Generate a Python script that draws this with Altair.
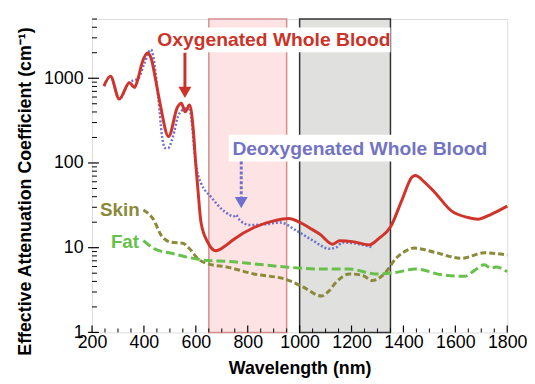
import altair as alt
import pandas as pd

# ---- data ----
oxy_wl = [246, 271, 305, 344, 364, 379, 392, 414, 430, 443, 462, 495, 529, 544, 559, 576,
          590, 600, 608, 620, 646, 677, 710, 747, 824, 900, 957, 1001, 1040, 1077, 1128,
          1154, 1204, 1268, 1306, 1350, 1395, 1433, 1446, 1480, 1522, 1585, 1649, 1687,
          1738, 1800]
oxy_val = [808, 1059, 569, 883, 780, 1037, 1490, 1986, 1630, 1037, 507, 205, 455, 507, 403,
           484, 250, 95, 48.8, 19.8, 11.6, 9.2, 10.3, 12.6, 17.3, 20.7, 22.1, 19.9, 17.0,
           14.5, 11.0, 12.1, 11.8, 10.8, 12.9, 17.5, 37, 68, 71, 60, 44.6, 27.2, 22.7, 21.7,
           24.8, 31]

deoxy_wl = [246, 271, 305, 344, 364, 379, 400, 427, 455, 470, 481, 493, 512, 531, 557, 570,
            585, 595, 605, 620, 658, 709, 747, 754, 770, 811, 874, 925, 989, 1052, 1115,
            1141, 1166, 1230, 1281]
deoxy_val = [808, 1059, 569, 900, 950, 1000, 1450, 2177, 605, 205, 150, 150, 205, 353, 443,
             470, 290, 130, 80, 58, 40, 27, 23.5, 24.5, 21, 18.5, 19, 19.8, 15.8, 12.1, 9.7,
             10.1, 11.5, 11.0, 10.1]

skin_wl = [398, 436, 468, 506, 550, 576, 608, 646, 722, 823, 950, 1014, 1084, 1109, 1141,
           1192, 1243, 1281, 1331, 1370, 1420, 1440, 1522, 1624, 1712, 1800]
skin_val = [27.9, 21.7, 13.8, 11.6, 11.3, 9.7, 7.4, 6.45, 5.9, 4.9, 4.2, 3.43, 2.69, 3.0,
            3.93, 4.9, 4.7, 4.1, 5.1, 7.4, 9.5, 9.9, 8.8, 7.5, 8.7, 8.2]

fat_wl = [398, 443, 506, 570, 646, 722, 823, 950, 1077, 1192, 1293, 1370, 1446, 1547, 1636,
          1674, 1712, 1738, 1757, 1800]
fat_val = [12.1, 9.6, 8.6, 7.7, 7.05, 6.9, 6.45, 5.9, 5.6, 5.6, 4.9, 5.1, 5.6, 4.8, 4.6,
           5.4, 6.3, 5.7, 5.9, 5.2]

pink_band = [650, 950]
gray_band = [1000, 1350]

x_major = [200, 400, 600, 800, 1000, 1200, 1400, 1600, 1800]
x_minor = [250, 300, 350, 450, 500, 550, 650, 700, 750, 850, 900, 950, 1050, 1100, 1150,
           1250, 1300, 1350, 1450, 1500, 1550, 1650, 1700, 1750]
y_major = [1, 10, 100, 1000]
y_minor = [2, 3, 4, 5, 6, 7, 8, 9, 20, 30, 40, 50, 60, 70, 80, 90, 200, 300, 400, 500,
           600, 700, 800, 900, 2000, 3000, 4000, 5000]

labels = ["Oxygenated Whole Blood", "Deoxygenated Whole Blood", "Skin", "Fat"]
label_wl = [901, 1232, 307, 327]
label_val = [2800, 147, 27.9, 11.7]
label_col = ["#cc3328", "#7373c4", "#8a8a3a", "#66c04a"]
label_size = [19.5, 19.5, 19, 19]

# white boxes behind the two blood labels
box_wl = [448, 727]
box_wl2 = [1350, 1722]
box_val = [2023, 104]
box_val2 = [3980, 215]

# arrows: wavelength, start value, tip value
arrow_wl = [558, 775]
arrow_from = [2000, 104]
arrow_to = [780, 40]
arrow_head = [680, 34]

W, H = 420, 317
xs = alt.Scale(domain=[200, 1800], nice=False)
ys = alt.Scale(type="log", domain=[1, 5000], nice=False)
FONT = "Liberation Sans"


def line_df(wl, val):
    return pd.DataFrame({"wl": wl, "v": val})


base_x = alt.X("wl:Q", scale=xs,
               axis=alt.Axis(values=x_major, title="Wavelength (nm)", ticks=False,
                             format="d",
                             labelFont=FONT, labelFontSize=18, labelColor="black",
                             titleFont=FONT, titleFontSize=18, titleFontWeight="bold",
                             titleColor="black", labelPadding=1, titlePadding=9,
                             domain=False, grid=False, labelFlush=False))
base_y = alt.Y("v:Q", scale=ys,
               axis=alt.Axis(values=y_major, title="Effective Attenuation Coefficient (cm⁻¹)",
                             ticks=False, format="d", labelFont=FONT, labelFontSize=18,
                             labelColor="black", titleFont=FONT, titleFontSize=18,
                             titleFontWeight="bold", titleColor="black", labelPadding=9,
                             titlePadding=9, domain=False, grid=False, labelFlush=False,
                             titleY=174))

bands = alt.Chart(pd.DataFrame({
    "a": [pink_band[0], gray_band[0]], "b": [pink_band[1], gray_band[1]],
    "c": ["#fde3e3", "#e0e0de"], "s": ["#d58f8f", "#333333"]})).mark_rect(
    strokeWidth=1.5).encode(
    x=alt.X("a:Q", scale=xs), x2="b:Q",
    y=alt.value(0), y2=alt.value(H),
    fill=alt.Fill("c:N", scale=None), stroke=alt.Stroke("s:N", scale=None))

boxes = alt.Chart(pd.DataFrame({"a": box_wl, "b": box_wl2, "lo": box_val, "hi": box_val2})
                  ).mark_rect(fill="white").encode(
    x=alt.X("a:Q", scale=xs), x2="b:Q", y=alt.Y("lo:Q", scale=ys), y2="hi:Q")

axes_holder = alt.Chart(line_df(fat_wl, fat_val)).mark_line(opacity=0).encode(
    x=base_x, y=base_y)
fat = alt.Chart(line_df(fat_wl, fat_val)).mark_line(
    color="#66c04a", strokeWidth=3, strokeDash=[9, 4], interpolate="monotone").encode(
    x=alt.X("wl:Q", scale=xs), y=alt.Y("v:Q", scale=ys))
skin = alt.Chart(line_df(skin_wl, skin_val)).mark_line(
    color="#8a8a3a", strokeWidth=3, strokeDash=[6, 3], interpolate="monotone").encode(
    x=alt.X("wl:Q", scale=xs), y=alt.Y("v:Q", scale=ys))
deoxy = alt.Chart(line_df(deoxy_wl, deoxy_val)).mark_line(
    color="#6f6fd0", strokeWidth=2.5, strokeDash=[2, 2], interpolate="monotone").encode(
    x=alt.X("wl:Q", scale=xs), y=alt.Y("v:Q", scale=ys))
oxy = alt.Chart(line_df(oxy_wl, oxy_val)).mark_line(
    color="#d0342a", strokeWidth=3, interpolate="monotone").encode(
    x=alt.X("wl:Q", scale=xs), y=alt.Y("v:Q", scale=ys))

arr_df = pd.DataFrame({"wl": arrow_wl, "a": arrow_from, "b": arrow_to, "h": arrow_head,
                       "c": ["#cc3328", "#6f6fd0"]})
arr_red = alt.Chart(arr_df.iloc[[0]]).mark_rule(strokeWidth=3, color="#cc3328").encode(
    x=alt.X("wl:Q", scale=xs), y=alt.Y("a:Q", scale=ys), y2="b:Q")
arr_blue = alt.Chart(arr_df.iloc[[1]]).mark_rule(strokeWidth=3, color="#6f6fd0",
                                                 strokeDash=[3, 2]).encode(
    x=alt.X("wl:Q", scale=xs), y=alt.Y("a:Q", scale=ys), y2="b:Q")
heads = alt.Chart(arr_df).mark_point(shape="triangle-down", filled=True, size=170,
                                     opacity=1).encode(
    x=alt.X("wl:Q", scale=xs), y=alt.Y("h:Q", scale=ys),
    color=alt.Color("c:N", scale=None))

texts = alt.Chart(pd.DataFrame({"t": labels, "wl": label_wl, "v": label_val,
                                "c": label_col, "fs": label_size})).mark_text(
    font=FONT, fontWeight="bold", align="center", baseline="middle").encode(
    x=alt.X("wl:Q", scale=xs), y=alt.Y("v:Q", scale=ys), text="t:N",
    color=alt.Color("c:N", scale=None), size=alt.Size("fs:Q", scale=None))

xt_major = alt.Chart(pd.DataFrame({"wl": x_major})).mark_rule(color="black",
                                                             strokeWidth=1.2).encode(
    x=alt.X("wl:Q", scale=xs), y=alt.value(H), y2=alt.value(H - 7))
xt_minor = alt.Chart(pd.DataFrame({"wl": x_minor})).mark_rule(color="black",
                                                             strokeWidth=1).encode(
    x=alt.X("wl:Q", scale=xs), y=alt.value(H), y2=alt.value(H - 4))
yt_major = alt.Chart(pd.DataFrame({"v": y_major})).mark_rule(color="black",
                                                            strokeWidth=1.2).encode(
    y=alt.Y("v:Q", scale=ys), x=alt.value(-4), x2=alt.value(7))
yt_minor = alt.Chart(pd.DataFrame({"v": y_minor})).mark_rule(color="black",
                                                            strokeWidth=1).encode(
    y=alt.Y("v:Q", scale=ys), x=alt.value(0), x2=alt.value(5))

chart = alt.layer(
    axes_holder, bands, boxes, skin, fat, deoxy, oxy, arr_red, arr_blue, heads, texts,
    xt_major, xt_minor, yt_major, yt_minor
).properties(
    width=W, height=H,
    autosize=alt.AutoSizeParams(type="none"),
    padding={"left": 85, "top": 9, "right": 20, "bottom": 48},
).configure_view(stroke="black", strokeWidth=1.5).configure(background="white")

chart.save("out.html", embed_options={"renderer": "svg", "actions": False})
